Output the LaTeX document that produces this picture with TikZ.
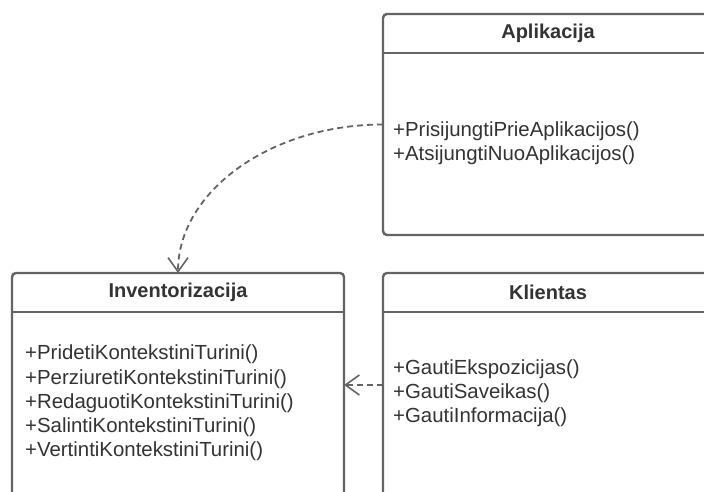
\documentclass[tikz,border=0pt]{standalone}
\usepackage{fontspec}
\setmainfont{Liberation Sans}
\usepackage{tikz}
\usetikzlibrary{arrows.meta, positioning, calc}
\definecolor{umlline}{RGB}{100,100,100}
\definecolor{umltext}{RGB}{51,51,51}
\tikzset{
  classbox/.style={rectangle, draw=umlline, fill=white, anchor=north west,
    rounded corners=4pt, line width=2.4pt, inner sep=0pt, outer sep=0pt},
  classtitle/.style={font=\fontsize{20}{24}\selectfont\bfseries, text=umltext,
    inner sep=0pt},
  methods/.style={font=\fontsize{20.4}{24.2}\selectfont, text=umltext,
    align=left, anchor=west, inner sep=0pt},
  sepline/.style={line width=2.4pt, color=umlline},
  depends/.style={-{Straight Barb[length=14pt, width=20pt, line width=1.6pt]},
    dash pattern=on 6pt off 4pt, line width=1.8pt, color=umlline}
}

\begin{document}
\begin{tikzpicture}[x=1pt, y=-1pt]
  \useasboundingbox (0,0) rectangle (704,492);
  \clip (0,0) rectangle (704,492);

  % --- Aplikacija ---
  \node[classbox, minimum width=330pt, minimum height=221pt] (apl) at (383,14) {};
  \draw[sepline] ([yshift=-39pt]apl.north west) -- ([yshift=-39pt]apl.north east);
  \node[classtitle] (aplt) at ([yshift=-19.5pt]apl.north) {Aplikacija};
  \node[methods] (aplm) at ([xshift=10pt, yshift=-19pt]apl.west)
    {+PrisijungtiPrieAplikacijos()\\+AtsijungtiNuoAplikacijos()};

  % --- Inventorizacija ---
  \node[classbox, minimum width=332pt, minimum height=224pt] (inv) at (12,273) {};
  \draw[sepline] ([yshift=-39pt]inv.north west) -- ([yshift=-39pt]inv.north east);
  \node[classtitle] (invt) at ([yshift=-19.5pt]inv.north) {Inventorizacija};
  \node[methods] (invm) at ([xshift=13pt, yshift=-18pt]inv.west)
    {+PridetiKontekstiniTurini()\\+PerziuretiKontekstiniTurini()\\
     +RedaguotiKontekstiniTurini()\\+SalintiKontekstiniTurini()\\
     +VertintiKontekstiniTurini()};

  % --- Klientas ---
  \node[classbox, minimum width=330pt, minimum height=224pt] (kli) at (383,273) {};
  \draw[sepline] ([yshift=-39pt]kli.north west) -- ([yshift=-39pt]kli.north east);
  \node[classtitle] (klit) at ([yshift=-19.5pt]kli.north) {Klientas};
  \node[methods] (klim) at ([xshift=10pt, yshift=-8pt]kli.west)
    {+GautiEkspozicijas()\\+GautiSaveikas()\\+GautiInformacija()};

  % Dependencies
  \draw[depends] (apl.west) .. controls +(-113,0) and +(0,-81) .. (inv.north);
  \draw[depends] (kli.west) -- (inv.east);
\end{tikzpicture}
\end{document}
